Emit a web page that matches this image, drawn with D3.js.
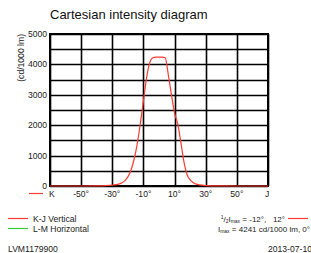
<!DOCTYPE html>
<html>
<head>
<meta charset="utf-8">
<script src="https://cdn.jsdelivr.net/npm/d3@7"></script>
<style>
  body { margin: 0; background: #fff; }
  svg { display: block; font-family: "Liberation Sans", Arial, sans-serif; }
</style>
</head>
<body>
<svg id="chart" width="311" height="253"></svg>
<script>
var angles = [-70, -50, -40, -34, -30, -26, -24, -22, -20, -18, -16, -14, -12, -10, -8, -6, -4, -2, 0, 2, 4, 6, 8, 10, 12, 14, 16, 18, 20, 22, 24, 26, 30, 40, 50, 70];
var vertical = [0, 0, 5, 15, 30, 60, 100, 170, 300, 520, 880, 1380, 2050, 2800, 3550, 4050, 4220, 4241, 4241, 4241, 4220, 3650, 3000, 2400, 2050, 1450, 800, 380, 200, 110, 60, 35, 15, 3, 0, 0];
var xTicks = [-50, -30, -10, 10, 30, 50];
var yTicks = [0, 1000, 2000, 3000, 4000, 5000];

var svg = d3.select("#chart");
var margin = {left: 50, top: 34, right: 268, bottom: 186};

var x = d3.scaleLinear().domain([-70, 70]).range([margin.left, margin.right]);
var y = d3.scaleLinear().domain([0, 5000]).range([margin.bottom, margin.top]);

svg.append("text")
    .attr("x", 50)
    .attr("y", 19)
    .attr("font-size", 13)
    .attr("fill", "#111")
    .text("Cartesian intensity diagram");

// grid
let grid = svg.append("g");
grid.selectAll("line.h")
    .data(d3.range(0, 5001, 500))
    .enter().append("line")
    .attr("x1", margin.left)
    .attr("x2", margin.right)
    .attr("y1", function(d) { return Math.round(y(d)) + 0.5; })
    .attr("y2", function(d) { return Math.round(y(d)) + 0.5; })
    .attr("stroke", "#000")
    .attr("stroke-width", 1.6);

grid.selectAll("line.v")
    .data(d3.range(-70, 71, 20))
    .enter().append("line")
    .attr("x1", function(d) { return Math.round(x(d)) + 0.5; })
    .attr("x2", function(d) { return Math.round(x(d)) + 0.5; })
    .attr("y1", margin.top)
    .attr("y2", margin.bottom)
    .attr("stroke", "#000")
    .attr("stroke-width", 1.6);

svg.append("rect")
    .attr("x", margin.left)
    .attr("y", margin.top)
    .attr("width", margin.right - margin.left)
    .attr("height", margin.bottom - margin.top)
    .attr("fill", "none")
    .attr("stroke", "#000")
    .attr("stroke-width", 2);

// curve
let line = d3.line()
    .x(function(d, i) { return x(angles[i]); })
    .y(function(d) { return y(d); })
    .curve(d3.curveMonotoneX);

svg.append("path")
    .datum(vertical)
    .attr("d", line)
    .attr("fill", "none")
    .attr("stroke", "#ff3b30")
    .attr("stroke-width", 1.2);

// y axis labels
svg.selectAll("text.ytick")
    .data(yTicks)
    .enter().append("text")
    .attr("x", 47)
    .attr("y", function(d) { return y(d) + 3; })
    .attr("text-anchor", "end")
    .attr("font-size", 8.6)
    .attr("fill", "#222")
    .text(function(d) { return d; });

svg.append("text")
    .attr("transform", "translate(24,34) rotate(-90)")
    .attr("text-anchor", "end")
    .attr("font-size", 8.6)
    .attr("fill", "#222")
    .text("(cd/1000 lm)");

// x axis labels
svg.selectAll("text.xtick")
    .data(xTicks)
    .enter().append("text")
    .attr("x", function(d) { return x(d); })
    .attr("y", 197)
    .attr("text-anchor", "middle")
    .attr("font-size", 8.6)
    .attr("fill", "#222")
    .text(function(d) { return d + "\u00b0"; });

svg.append("text").attr("x", 49).attr("y", 197).attr("font-size", 8.6).attr("fill", "#222").text("K");
svg.append("text").attr("x", 265).attr("y", 197).attr("font-size", 8.6).attr("fill", "#222").text("J");
svg.append("line").attr("x1", 29).attr("x2", 43).attr("y1", 193.5).attr("y2", 193.5)
    .attr("stroke", "#ff3b30").attr("stroke-width", 1.2);

// legend
let legend = [
    {label: "K-J Vertical", color: "#ff3b30"},
    {label: "L-M Horizontal", color: "#33cc33"}
];
legend.forEach(function(d, i) {
    svg.append("line")
        .attr("x1", 8).attr("x2", 28)
        .attr("y1", 218.5 + i * 10).attr("y2", 218.5 + i * 10)
        .attr("stroke", d.color).attr("stroke-width", 1.2);
    svg.append("text")
        .attr("x", 33).attr("y", 221.5 + i * 10)
        .attr("font-size", 8.6).attr("fill", "#222")
        .text(d.label);
});

let half = svg.append("text").attr("x", 285).attr("y", 221.5)
    .attr("text-anchor", "end").attr("font-size", 8).attr("fill", "#222")
    .attr("xml:space", "preserve");
half.append("tspan").attr("font-size", 5).attr("dy", -2.5).text("1");
half.append("tspan").attr("dy", 2.5).text("/");
half.append("tspan").attr("font-size", 5).attr("dy", 1.5).text("2");
half.append("tspan").attr("dy", -1.5).text("I");
half.append("tspan").attr("font-size", 5).attr("dy", 1.5).text("max");
half.append("tspan").attr("dy", -1.5).text(" = -12\u00b0,   12\u00b0");

svg.append("line").attr("x1", 288).attr("x2", 308).attr("y1", 218.5).attr("y2", 218.5)
    .attr("stroke", "#ff3b30").attr("stroke-width", 1.2);

let imax = svg.append("text").attr("x", 310).attr("y", 231.5)
    .attr("text-anchor", "end")
    .attr("font-size", 8).attr("fill", "#222");
imax.append("tspan").text("I");
imax.append("tspan").attr("font-size", 5).attr("dy", 1.5).text("max");
imax.append("tspan").attr("dy", -1.5).text(" = 4241 cd/1000 lm, 0\u00b0");

svg.append("text").attr("x", 8).attr("y", 251.5).attr("font-size", 8.6).attr("fill", "#222").text("LVM1179900");
svg.append("text").attr("x", 268).attr("y", 251.5).attr("font-size", 8.6).attr("fill", "#222").text("2013-07-10");
</script>
</body>
</html>
